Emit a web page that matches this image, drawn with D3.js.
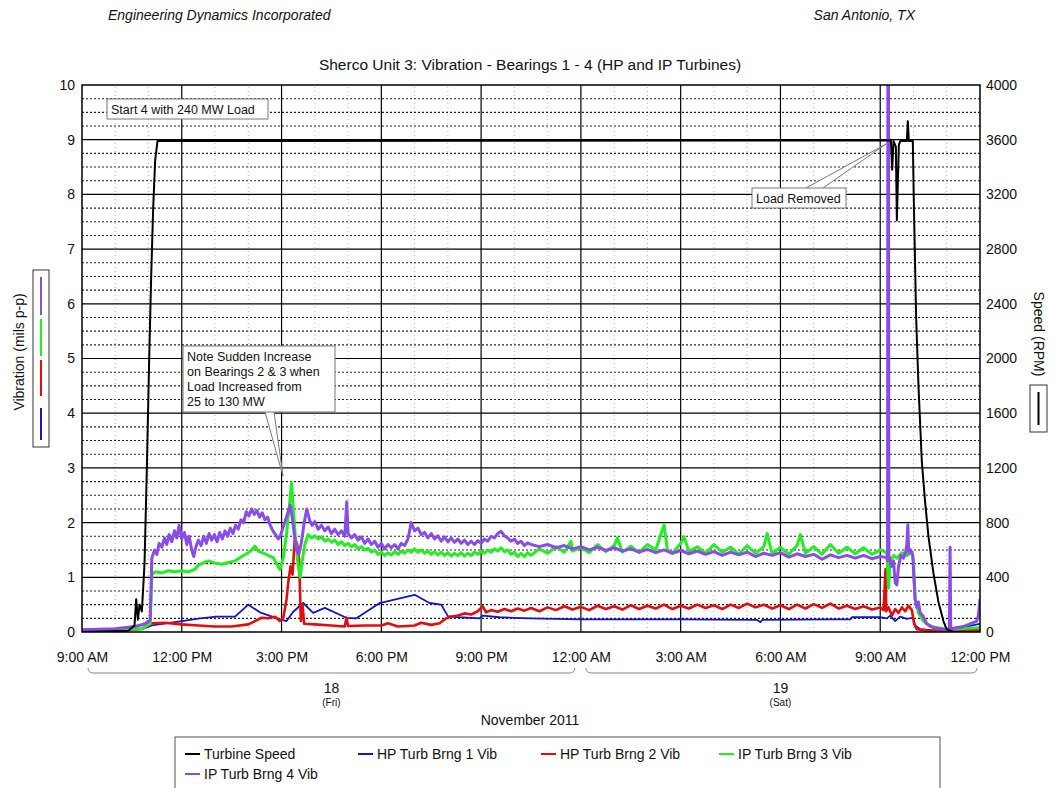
<!DOCTYPE html>
<html>
<head>
<meta charset="utf-8">
<script src="https://cdn.jsdelivr.net/npm/d3@7"></script>
<style>
  body { margin: 0; background: #fff; }
  text { font-family: "Liberation Sans", Arial, sans-serif; fill: #111; }
</style>
</head>
<body>
<svg id="chart" width="1055" height="788"></svg>
<script>
// hours after 9:00 AM Fri 18 Nov 2011
const xTickLabels = ["9:00 AM", "12:00 PM", "3:00 PM", "6:00 PM", "9:00 PM", "12:00 AM", "3:00 AM", "6:00 AM", "9:00 AM", "12:00 PM"];
const days = [
  { day: "18", weekday: "(Fri)", from: 0, to: 15 },
  { day: "19", weekday: "(Sat)", from: 15, to: 27 },
];
const vibTicks = [0, 1, 2, 3, 4, 5, 6, 7, 8, 9, 10];
const speedTicks = [0, 400, 800, 1200, 1600, 2000, 2400, 2800, 3200, 3600, 4000];

// Turbine Speed (RPM)
const speed = [[0,0],[1.4,10],[1.58,50],[1.63,240],[1.68,90],[1.73,200],[1.8,150],[1.88,500],[1.95,1200],[2.02,2000],[2.08,2600],[2.14,3100],[2.2,3450],[2.27,3590],[12,3592],[24.28,3595],[24.32,3600],[24.36,3380],[24.4,3590],[24.47,3550],[24.5,3010],[24.56,3560],[24.6,3590],[24.8,3590],[24.83,3735],[24.86,3590],[24.98,3590],[25.01,3150],[25.08,2300],[25.15,1800],[25.25,1250],[25.35,950],[25.45,700],[25.6,430],[25.75,220],[25.9,80],[26.0,20],[26.2,0],[27,0]];

// HP Turb Brng 1 Vib (mils p-p)
const brng1 = [[0,0.02],[1,0.03],[1.8,0.05],[2.1,0.12],[3.0,0.2],[3.55,0.25],[4.05,0.28],[4.6,0.28],[5.0,0.5],[5.35,0.36],[5.95,0.23],[6.15,0.2],[6.35,0.37],[6.65,0.53],[6.95,0.35],[7.3,0.44],[7.95,0.26],[8.25,0.25],[8.95,0.53],[10.0,0.68],[10.45,0.53],[10.8,0.5],[11.0,0.29],[11.35,0.27],[11.95,0.25],[12.05,0.3],[12.55,0.27],[13.45,0.25],[15.0,0.23],[18.0,0.23],[20.3,0.22],[20.4,0.18],[20.45,0.22],[22.5,0.23],[23.1,0.23],[23.15,0.27],[24.0,0.27],[24.2,0.25],[24.3,0.3],[24.45,0.2],[24.6,0.28],[24.8,0.24],[24.98,0.26],[25.05,0.12],[25.2,0.05],[25.6,0.03],[26.0,0.03],[27,0.15]];

// HP Turb Brng 2 Vib
const brng2 = [[0,0.02],[1,0.03],[1.8,0.06],[2.1,0.16],[2.5,0.17],[3.0,0.14],[3.5,0.12],[4.0,0.1],[4.5,0.1],[5.0,0.14],[5.2,0.2],[5.4,0.26],[5.6,0.25],[5.8,0.28],[5.95,0.2],[6.05,0.25],[6.15,0.6],[6.2,0.9],[6.27,1.2],[6.33,1.05],[6.4,1.72],[6.47,1.6],[6.53,1.3],[6.58,0.2],[6.63,0.5],[6.68,0.15],[7.0,0.14],[7.5,0.12],[7.9,0.1],[7.95,0.26],[8.0,0.11],[8.5,0.12],[9.0,0.12],[9.2,0.16],[9.5,0.1],[10.0,0.12],[10.2,0.17],[10.5,0.13],[10.75,0.16],[10.95,0.25],[11.1,0.28],[11.3,0.3],[11.5,0.34],[11.7,0.32],[11.9,0.38],[12.05,0.47],[12.15,0.36],[12.3,0.4],[12.5,0.37],[12.7,0.42],[12.9,0.38],[13.1,0.43],[13.3,0.39],
  [13.5,0.44],[13.75,0.38],[14.0,0.45],[14.25,0.4],[14.5,0.47],[14.75,0.41],[15.0,0.46],[15.25,0.4],[15.5,0.48],[15.75,0.42],[16.0,0.47],[16.25,0.41],[16.5,0.49],[16.75,0.42],[17.0,0.48],[17.25,0.43],[17.5,0.5],[17.75,0.42],[18.0,0.48],[18.25,0.43],[18.5,0.5],[18.75,0.44],[19.0,0.49],[19.25,0.42],[19.5,0.5],[19.75,0.44],[20.0,0.52],[20.25,0.45],[20.5,0.5],[20.75,0.43],[21.0,0.49],[21.25,0.42],[21.5,0.5],[21.75,0.43],[22.0,0.51],[22.25,0.44],[22.5,0.52],[22.75,0.43],[23.0,0.48],[23.25,0.42],[23.5,0.47],[23.75,0.41],[24.0,0.45],[24.1,0.4],[24.16,1.15],[24.18,0.38],[24.25,0.45],[24.35,0.3],[24.45,0.42],[24.55,0.35],[24.65,0.45],[24.75,0.38],[24.85,0.48],[24.95,0.4],[25.02,0.15],[25.1,0.05],[25.5,0.02],[27,0.04]];

// IP Turb Brng 3 Vib
const brng3 = [[0,0.03],[1,0.04],[1.8,0.06],[2.05,0.15],[2.1,1.05],[2.2,1.1],[2.4,1.08],[2.6,1.12],[2.8,1.1],[3.0,1.12],[3.2,1.1],[3.4,1.15],[3.5,1.22],[3.6,1.25],[3.8,1.3],[4.0,1.26],[4.2,1.24],[4.4,1.27],[4.6,1.3],[4.8,1.38],[5.0,1.45],[5.1,1.5],[5.2,1.57],[5.3,1.48],[5.45,1.44],[5.6,1.4],[5.75,1.36],[5.85,1.25],[5.95,1.14],[6.05,1.35],[6.15,1.8],[6.25,2.4],[6.3,2.73],[6.36,2.2],[6.42,1.7],[6.5,1.2],[6.56,1.0],[6.62,1.3],[6.7,1.6],[6.8,1.78],[6.9,1.72],[7.0,1.76],[7.1,1.7],[7.2,1.74],[7.3,1.66],[7.4,1.7],[7.5,1.64],[7.6,1.68],[7.7,1.6],[7.8,1.65],[7.9,1.58],[8.0,1.62],[8.1,1.56],[8.2,1.6],[8.3,1.52],[8.4,1.56],[8.5,1.5],[8.6,1.53],[8.7,1.46],[8.8,1.5],[8.9,1.42],[9.0,1.46],[9.1,1.4],[9.2,1.45],[9.3,1.41],[9.4,1.47],[9.5,1.42],[9.6,1.48],[9.7,1.44],[9.8,1.5],[9.9,1.46],[10.0,1.52],[10.1,1.46],[10.2,1.5],[10.3,1.44],[10.4,1.48],[10.5,1.42],[10.6,1.47],[10.7,1.41],[10.8,1.46],[10.9,1.4],[11.0,1.45],[11.1,1.39],[11.2,1.44],[11.3,1.4],[11.4,1.45],[11.5,1.39],[11.6,1.44],[11.7,1.4],[11.8,1.46],[11.9,1.42],[12.0,1.48],[12.1,1.44],[12.2,1.5],[12.3,1.46],[12.4,1.52],[12.5,1.48],[12.6,1.54],[12.7,1.47],[12.8,1.5],[12.9,1.42],[13.0,1.46],[13.1,1.38],[13.2,1.44],[13.3,1.38],[13.4,1.45],
  [13.5,1.4],[13.75,1.52],[14.0,1.44],[14.25,1.56],[14.5,1.46],[14.7,1.66],[14.75,1.48],[15.0,1.55],[15.25,1.45],[15.5,1.6],[15.75,1.47],[16.0,1.58],[16.1,1.72],[16.25,1.46],[16.5,1.57],[16.75,1.45],[17.0,1.6],[17.25,1.5],[17.5,1.96],[17.6,1.5],[17.75,1.44],[18.0,1.62],[18.1,1.74],[18.25,1.47],[18.5,1.56],[18.75,1.44],[19.0,1.6],[19.25,1.46],[19.5,1.55],[19.75,1.42],[20.0,1.58],[20.25,1.44],[20.5,1.56],[20.6,1.8],[20.75,1.43],[21.0,1.55],[21.25,1.42],[21.5,1.58],[21.6,1.78],[21.75,1.44],[22.0,1.56],[22.25,1.42],[22.5,1.6],[22.75,1.44],[23.0,1.55],[23.25,1.43],[23.5,1.54],[23.75,1.42],[24.0,1.5],[24.2,1.45],[24.25,0.8],[24.3,1.3],[24.4,1.4],[24.5,1.35],[24.65,1.45],[24.8,1.4],[24.95,1.45],[25.0,1.3],[25.05,0.6],[25.15,0.35],[25.3,0.2],[25.5,0.1],[26,0.05],[27,0.08]];

// IP Turb Brng 4 Vib
const brng4 = [[0,0.04],[1,0.06],[1.6,0.1],[1.9,0.15],[2.05,0.22],[2.1,1.35],[2.18,1.5],[2.25,1.42],[2.32,1.62],[2.4,1.55],[2.48,1.72],[2.55,1.6],[2.62,1.78],[2.7,1.65],[2.78,1.85],[2.85,1.72],[2.92,1.95],[3.0,1.7],[3.08,1.82],[3.15,1.6],[3.22,1.75],[3.3,1.5],[3.36,1.38],[3.42,1.55],[3.5,1.68],[3.58,1.58],[3.66,1.75],[3.74,1.62],[3.82,1.8],[3.9,1.68],[3.98,1.78],[4.06,1.65],[4.14,1.82],[4.22,1.7],[4.3,1.85],[4.38,1.75],[4.46,1.9],[4.54,1.8],[4.62,1.95],[4.7,1.88],[4.78,2.05],[4.86,2.0],[4.94,2.2],[5.02,2.12],[5.1,2.25],[5.18,2.15],[5.26,2.22],[5.34,2.1],[5.42,2.18],[5.5,2.05],[5.58,2.1],[5.66,1.95],[5.74,1.85],[5.82,1.78],[5.9,1.7],[5.96,1.75],[6.04,1.9],[6.12,2.05],[6.2,2.2],[6.26,2.32],[6.32,2.1],[6.38,1.8],[6.45,1.5],[6.52,1.42],[6.6,1.65],[6.68,2.0],[6.76,2.25],[6.84,2.05],[6.92,1.95],[7.0,2.02],[7.1,1.88],[7.2,1.95],[7.3,1.85],[7.4,1.92],[7.5,1.8],[7.6,1.88],[7.7,1.78],[7.8,1.85],[7.9,1.75],[7.96,2.38],[8.0,1.8],[8.1,1.72],[8.2,1.78],[8.3,1.68],[8.4,1.74],[8.5,1.62],[8.6,1.7],[8.7,1.6],[8.8,1.66],[8.9,1.55],[9.0,1.62],[9.1,1.52],[9.2,1.6],[9.3,1.54],[9.4,1.6],[9.5,1.52],[9.6,1.62],[9.7,1.58],[9.8,1.7],[9.9,2.0],[10.0,1.85],[10.1,1.9],[10.2,1.78],[10.3,1.82],[10.4,1.72],[10.5,1.8],[10.6,1.7],[10.7,1.76],[10.8,1.66],[10.9,1.74],[11.0,1.65],[11.1,1.72],[11.2,1.64],[11.3,1.7],[11.4,1.62],[11.5,1.68],[11.6,1.6],[11.7,1.66],[11.8,1.6],[11.9,1.67],[12.0,1.62],[12.1,1.7],[12.2,1.66],[12.3,1.75],[12.4,1.72],[12.5,1.8],[12.6,1.84],[12.7,1.76],[12.8,1.72],[12.9,1.66],[13.0,1.7],[13.1,1.62],[13.2,1.66],[13.3,1.58],[13.4,1.63],
  [13.5,1.6],[13.75,1.56],[14.0,1.6],[14.25,1.54],[14.5,1.58],[14.75,1.52],[15.0,1.56],[15.25,1.5],[15.5,1.55],[15.75,1.49],[16.0,1.54],[16.25,1.48],[16.5,1.52],[16.75,1.46],[17.0,1.51],[17.25,1.45],[17.5,1.5],[17.75,1.44],[18.0,1.49],[18.25,1.43],[18.5,1.48],[18.75,1.42],[19.0,1.47],[19.25,1.4],[19.5,1.46],[19.75,1.41],[20.0,1.46],[20.25,1.38],[20.5,1.44],[20.75,1.4],[21.0,1.45],[21.25,1.37],[21.5,1.43],[21.75,1.38],[22.0,1.42],[22.25,1.33],[22.5,1.41],[22.75,1.36],[23.0,1.4],[23.25,1.35],[23.5,1.4],[23.75,1.34],[24.0,1.38],[24.2,1.36],[24.22,1.3],[24.23,10],[24.25,10],[24.26,1.4],[24.28,1.35],[24.34,1.2],[24.4,1.3],[24.45,0.9],[24.5,0.86],[24.55,1.2],[24.62,1.4],[24.7,1.35],[24.76,1.45],[24.8,1.6],[24.83,1.96],[24.86,1.45],[24.92,1.5],[24.98,1.4],[25.01,1.0],[25.05,0.6],[25.1,0.45],[25.15,0.55],[25.2,0.35],[25.28,0.3],[25.4,0.15],[25.6,0.08],[25.9,0.05],[26.08,0.05],[26.1,1.55],[26.12,0.06],[26.5,0.1],[26.9,0.2],[26.95,0.3],[27,0.6]];

const series = [
  { name: "Turbine Speed", data: speed, color: "#000000", width: 2, rpm: true },
  { name: "HP Turb Brng 1 Vib", data: brng1, color: "#1414c8", width: 1.8 },
  { name: "HP Turb Brng 2 Vib", data: brng2, color: "#e40c0c", width: 2.6 },
  { name: "IP Turb Brng 3 Vib", data: brng3, color: "#22ee22", width: 3 },
  { name: "IP Turb Brng 4 Vib", data: brng4, color: "#8a4ce8", width: 3 },
];

const svg = d3.select("#chart");
const x = d3.scaleLinear().domain([0, 27]).range([82, 980]);
const yV = d3.scaleLinear().domain([0, 10]).range([632, 85]);
const yS = d3.scaleLinear().domain([0, 4000]).range([632, 85]);

// header
svg.append("text").attr("x", 108).attr("y", 20).style("font-style", "italic").style("font-size", "14px").text("Engineering Dynamics Incorporated");
svg.append("text").attr("x", 915).attr("y", 20).attr("text-anchor", "end").style("font-style", "italic").style("font-size", "14px").text("San Antonio, TX");
svg.append("text").attr("x", 530).attr("y", 70).attr("text-anchor", "middle").style("font-size", "15.5px").text("Sherco Unit 3: Vibration - Bearings 1 - 4 (HP and IP Turbines)");

// grid
const grid = svg.append("g");
grid.selectAll("line.hmin")
  .data(d3.range(0.25, 10, 0.25).filter((d) => d % 1 !== 0))
  .join("line")
  .attr("x1", x(0)).attr("x2", x(27))
  .attr("y1", (d) => yV(d)).attr("y2", (d) => yV(d))
  .attr("stroke", "#222").attr("stroke-width", 1.1).attr("stroke-dasharray", "2,2");
grid.selectAll("line.vmin")
  .data(d3.range(1, 27).filter((d) => d % 3 !== 0))
  .join("line")
  .attr("x1", (d) => x(d)).attr("x2", (d) => x(d))
  .attr("y1", yV(0)).attr("y2", yV(10))
  .attr("stroke", "#aaa").attr("stroke-width", 0.8).attr("stroke-dasharray", "1,3");
grid.selectAll("line.hmaj")
  .data(d3.range(1, 10))
  .join("line")
  .attr("x1", x(0)).attr("x2", x(27))
  .attr("y1", (d) => yV(d)).attr("y2", (d) => yV(d))
  .attr("stroke", "#000").attr("stroke-width", 1.2);
grid.selectAll("line.vmaj")
  .data(d3.range(3, 27, 3))
  .join("line")
  .attr("x1", (d) => x(d)).attr("x2", (d) => x(d))
  .attr("y1", yV(0)).attr("y2", yV(10))
  .attr("stroke", "#000").attr("stroke-width", 1.2);

// series
svg.append("clipPath").attr("id", "plot").append("rect")
  .attr("x", x(0)).attr("y", yV(10)).attr("width", x(27) - x(0)).attr("height", yV(0) - yV(10));
const lines = svg.append("g").attr("clip-path", "url(#plot)");
[1, 2, 3, 4, 0].forEach((i) => {
  const s = series[i];
  const line = d3.line().x((d) => x(d[0])).y((d) => (s.rpm ? yS(d[1]) : yV(d[1])));
  lines.append("path").datum(s.data)
    .attr("d", line).attr("fill", "none")
    .attr("stroke", s.color).attr("stroke-width", s.width).attr("stroke-linejoin", "round");
});

svg.append("rect").attr("x", x(0)).attr("y", yV(10)).attr("width", x(27) - x(0)).attr("height", yV(0) - yV(10))
  .attr("fill", "none").attr("stroke", "#000").attr("stroke-width", 1.5);

// axes
const axisText = (g) => {
  g.select(".domain").remove();
  g.selectAll("text").style("font-size", "14px").attr("fill", "#111").style("font-family", '"Liberation Sans", Arial, sans-serif');
};
svg.append("g").attr("transform", `translate(${x(0)},0)`)
  .call(d3.axisLeft(yV).tickValues(vibTicks).tickSize(0).tickPadding(7)).call(axisText);
svg.append("g").attr("transform", `translate(${x(27)},0)`)
  .call(d3.axisRight(yS).tickValues(speedTicks).tickFormat(d3.format("d")).tickSize(0).tickPadding(6)).call(axisText);
svg.append("g").attr("transform", `translate(0,${yV(0)})`)
  .call(d3.axisBottom(x).tickValues(d3.range(0, 28, 3)).tickFormat((d, i) => xTickLabels[i]).tickSize(0).tickPadding(20))
  .call(axisText);

// day brackets
days.forEach((d) => {
  const x0 = x(d.from) + (d.from === 0 ? 6 : 5);
  const x1 = x(d.to) - (d.to === 27 ? 3 : 6);
  svg.append("path")
    .attr("d", `M${x0},668 Q${x0},673 ${x0 + 6},673 L${x1 - 6},673 Q${x1},673 ${x1},668`)
    .attr("fill", "none").attr("stroke", "#888").attr("stroke-width", 1);
  const cx = (x(d.from) + x(d.to)) / 2;
  svg.append("text").attr("x", cx).attr("y", 693).attr("text-anchor", "middle").style("font-size", "14px").text(d.day);
  svg.append("text").attr("x", cx).attr("y", 706).attr("text-anchor", "middle").style("font-size", "10px").text(d.weekday);
});
svg.append("text").attr("x", 530).attr("y", 725).attr("text-anchor", "middle").style("font-size", "14px").text("November 2011");

// axis titles with swatches
svg.append("text").attr("transform", "translate(24,352) rotate(-90)").attr("text-anchor", "middle").style("font-size", "14px").text("Vibration (mils p-p)");
svg.append("rect").attr("x", 33).attr("y", 270).attr("width", 16).attr("height", 177).attr("fill", "none").attr("stroke", "#333");
const swatches = [[4, 277, 315], [3, 319, 356], [2, 360, 396], [1, 408, 440]];
swatches.forEach(([i, y0, y1]) => {
  svg.append("line").attr("x1", 41).attr("x2", 41).attr("y1", y0).attr("y2", y1).attr("stroke", series[i].color).attr("stroke-width", 2);
});
svg.append("text").attr("transform", "translate(1034,334) rotate(90)").attr("text-anchor", "middle").style("font-size", "14px").text("Speed (RPM)");
svg.append("rect").attr("x", 1030).attr("y", 385).attr("width", 17).attr("height", 47).attr("fill", "none").attr("stroke", "#333");
svg.append("line").attr("x1", 1038.5).attr("x2", 1038.5).attr("y1", 392).attr("y2", 425).attr("stroke", "#000").attr("stroke-width", 2);

// annotations
function callout(lines, bx, by, bw, bh, pointer) {
  const g = svg.append("g");
  if (pointer) {
    g.append("path").attr("d", `M${pointer[0]},${pointer[1]} L${pointer[4]},${pointer[5]} L${pointer[2]},${pointer[3]}`)
      .attr("fill", "#fff").attr("stroke", "#777").attr("stroke-width", 1);
  }
  g.append("rect").attr("x", bx).attr("y", by).attr("width", bw).attr("height", bh).attr("fill", "#fff").attr("stroke", "#777");
  lines.forEach((t, i) => {
    g.append("text").attr("x", bx + 4).attr("y", by + 15 + i * 15).style("font-size", "12.5px").text(t);
  });
}
callout(["Start 4 with 240 MW Load"], 107, 99, 161, 20);
callout(["Note Sudden Increase", "on Bearings 2 & 3 when", "Load Increased from", "25 to 130 MW"], 183, 346, 152, 66, [265, 412, 274, 412, 283, 476]);
callout(["Load Removed"], 752, 188, 94, 20, [806, 188, 823, 188, 886, 144]);

// legend
svg.append("rect").attr("x", 175).attr("y", 737).attr("width", 765).attr("height", 60).attr("fill", "none").attr("stroke", "#555");
const legendPos = [[185, 754], [358, 754], [541, 754], [719, 754], [185, 774]];
series.forEach((s, i) => {
  const [lx, ly] = legendPos[i];
  svg.append("line").attr("x1", lx).attr("x2", lx + 15).attr("y1", ly).attr("y2", ly).attr("stroke", s.color).attr("stroke-width", 2);
  svg.append("text").attr("x", lx + 19).attr("y", ly + 5).style("font-size", "14px").text(s.name);
});
</script>
</body>
</html>
